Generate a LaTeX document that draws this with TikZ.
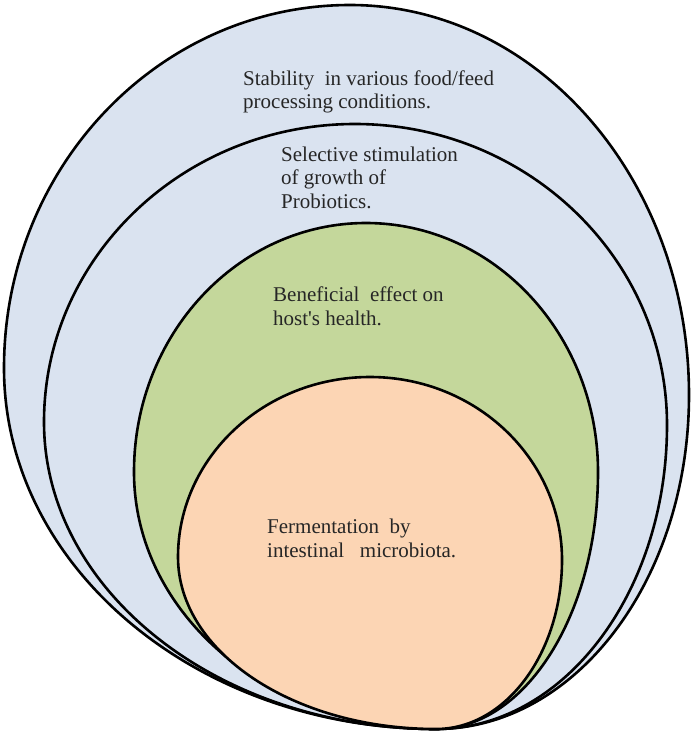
\documentclass[tikz,border=0pt]{standalone}
\usepackage{fontspec}
\setmainfont{Liberation Serif}
\usepackage{tikz}
\usetikzlibrary{calc}
\definecolor{skyfill}{HTML}{DAE3F0}
\definecolor{olivefill}{HTML}{C4D79B}
\definecolor{peachfill}{HTML}{FCD5B4}
\definecolor{inkgray}{HTML}{262626}
\tikzset{
  layerline/.style={draw=black, line width=2.6pt},
  caption/.style={anchor=base west, align=left, inner sep=0pt, text=inkgray,
    font=\fontsize{21}{23.5}\selectfont}
}
% egg shaped layer: fill, left, top, right (all meet in B)
\newcommand{\eggshape}[4]{%
  \draw[layerline, fill=#1] (B)
    .. controls ($(B)!.552!(#2|-B)$) and ($(#2)!.552!(#2|-B)$) .. (#2)
    .. controls ($(#2)!.552!(#2|-#3)$) and ($(#3)!.552!(#2|-#3)$) .. (#3)
    .. controls ($(#3)!.552!(#4|-#3)$) and ($(#4)!.552!(#4|-#3)$) .. (#4)
    .. controls ($(#4)!.552!(#4|-B)$) and ($(B)!.552!(#4|-B)$) .. (B) -- cycle;}

\begin{document}
\begin{tikzpicture}[x=1pt, y=-1pt]
\useasboundingbox (0,0) rectangle (693,735);
\coordinate (B) at (436,729);
% outer layer
\coordinate (outL) at (4,368);
\coordinate (outT) at (350,5);
\coordinate (outR) at (689,395);
\eggshape{skyfill}{outL}{outT}{outR}
% second layer
\coordinate (secL) at (44,422);
\coordinate (secT) at (355,124);
\coordinate (secR) at (667,425);
\eggshape{skyfill}{secL}{secT}{secR}
% green layer
\coordinate (grnL) at (134,472);
\coordinate (grnT) at (366,223);
\coordinate (grnR) at (598,472);
\eggshape{olivefill}{grnL}{grnT}{grnR}
% inner layer
\coordinate (inL) at (178,557);
\coordinate (inT) at (370,377);
\coordinate (inR) at (562,560);
\eggshape{peachfill}{inL}{inT}{inR}

\node[caption] (stability) at (243,109) {Stability\ \ in\ various food/feed\\processing conditions.};
\node[caption] (selective) at (281,208) {Selective stimulation\\of growth of\\Probiotics.};
\node[caption] (benefit) at (273,325) {Beneficial\ \ effect on\\host\textquotesingle s health.};
\node[caption] (ferment) at (267,557) {Fermentation\ \ by\\intestinal\ \ \ microbiota.};
\end{tikzpicture}
\end{document}
